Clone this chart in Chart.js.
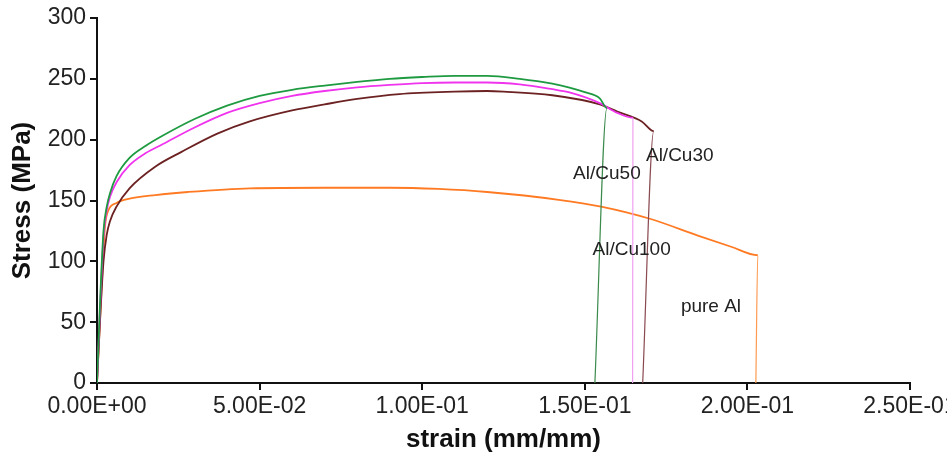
<!DOCTYPE html>
<html>
<head>
<meta charset="utf-8">
<script src="https://cdn.jsdelivr.net/npm/chart.js@4"></script>
<style>
  html, body { margin: 0; padding: 0; background: #fff; }
  #wrap { width: 947px; height: 459px; }
</style>
</head>
<body>
<div id="wrap"><canvas id="stress-chart" width="947" height="459"></canvas></div>
<script>
// stress-strain curves (strain mm/mm, stress MPa)
const cu50Strain  = [0, 0.001, 0.002, 0.003, 0.004, 0.006, 0.01, 0.015, 0.02, 0.03, 0.04, 0.05, 0.06, 0.07, 0.08, 0.09, 0.10, 0.11, 0.12, 0.13, 0.14, 0.145, 0.15, 0.1546, 0.1568, 0.1531];
const cu50Stress  = [0, 70, 125, 145, 156, 170, 185, 195, 203, 217, 228, 236, 241, 244.5, 247.5, 250, 251.5, 252.5, 252.5, 250, 246, 243, 239, 234, 226, 0];

const cu100Strain = [0, 0.001, 0.002, 0.003, 0.004, 0.006, 0.01, 0.015, 0.02, 0.03, 0.04, 0.05, 0.06, 0.07, 0.08, 0.09, 0.10, 0.11, 0.12, 0.13, 0.14, 0.145, 0.1546, 0.16, 0.1648, 0.1647];
const cu100Stress = [0, 65, 120, 142, 153, 165, 179, 189, 196, 210, 222, 230, 236, 240, 243, 245, 246.5, 247, 247, 245.5, 241.5, 239, 230, 222, 218, 0];

const cu30Strain  = [0, 0.001, 0.002, 0.003, 0.004, 0.006, 0.01, 0.018, 0.026, 0.037, 0.047, 0.06, 0.07, 0.08, 0.093, 0.11, 0.12, 0.125, 0.14, 0.1546, 0.16, 0.1675, 0.1712, 0.1678];
const cu30Stress  = [0, 55, 100, 122, 133, 145, 160, 178, 190, 205, 215, 224, 229, 233.5, 237.5, 239.5, 240, 239.5, 236.5, 229, 223, 215, 207, 0];

const alStrain    = [0, 0.001, 0.002, 0.0025, 0.0035, 0.006, 0.01, 0.018, 0.028, 0.047, 0.07, 0.09, 0.105, 0.12, 0.142, 0.155, 0.17, 0.185, 0.195, 0.2032, 0.2026];
const alStress    = [0, 55, 110, 130, 142, 148, 151.5, 154.5, 157, 160, 160.5, 160.5, 159.5, 157, 150.6, 145, 135, 121, 112, 105, 0];

const yTicks = [0, 50, 100, 150, 200, 250, 300];
const xTicks = [0, 0.05, 0.10, 0.15, 0.20, 0.25];

// curve labels placed in data coordinates
const curveLabels = ['Al/Cu50', 'Al/Cu30', 'Al/Cu100', 'pure Al'];
const labelStrain = [0.1568, 0.1792, 0.1644, 0.1888];
const labelStress = [172, 187, 109.5, 62.5];

const FONT = "'Liberation Sans', Arial, sans-serif";

function pts(xs, ys) { return xs.map((x, i) => ({ x: x, y: ys[i] })); }

function sciLabel(v) {
  if (Math.abs(v) < 1e-12) return '0.00E+00';
  const [m, e] = v.toExponential(2).split('e');
  const n = parseInt(e, 10);
  return m + 'E' + (n < 0 ? '-' : '+') + String(Math.abs(n)).padStart(2, '0');
}

// lighter, thinner final drop segment like in the figure
function dropSeg(len, color) {
  return {
    borderColor: c => c.p1DataIndex === len - 1 ? color : undefined,
    borderWidth: c => c.p1DataIndex === len - 1 ? 1.2 : undefined
  };
}

const curveLabelPlugin = {
  id: 'curveLabels',
  afterDatasetsDraw(chart) {
    const { ctx, scales: { x, y } } = chart;
    ctx.save();
    ctx.font = '19px ' + FONT;
    ctx.fillStyle = '#222';
    ctx.textAlign = 'center';
    ctx.textBaseline = 'middle';
    curveLabels.forEach((t, i) => {
      ctx.fillText(t, x.getPixelForValue(labelStrain[i]), y.getPixelForValue(labelStress[i]));
    });
    ctx.restore();
  }
};

const ctx = document.getElementById('stress-chart').getContext('2d');
new Chart(ctx, {
  type: 'scatter',
  data: {
    datasets: [
      { label: 'Al/Cu50', data: pts(cu50Strain, cu50Stress), borderColor: '#1e9a40', segment: dropSeg(cu50Strain.length, '#3a8a4a') },
      { label: 'Al/Cu100', data: pts(cu100Strain, cu100Stress), borderColor: '#f034ee', segment: dropSeg(cu100Strain.length, '#f0a0f0') },
      { label: 'Al/Cu30', data: pts(cu30Strain, cu30Stress), borderColor: '#6c2222', segment: dropSeg(cu30Strain.length, '#8a4a50') },
      { label: 'pure Al', data: pts(alStrain, alStress), borderColor: '#ff7a22', segment: dropSeg(alStrain.length, '#ff9a50') }
    ].map(d => Object.assign(d, { showLine: true, pointRadius: 0, borderWidth: 1.8, cubicInterpolationMode: 'monotone' }))
  },
  options: {
    responsive: false,
    animation: false,
    layout: { padding: { top: 18, right: 37, left: 7, bottom: 0 } },
    plugins: {
      legend: { display: false },
      tooltip: { enabled: false }
    },
    scales: {
      x: {
        type: 'linear', min: 0, max: 0.25,
        afterBuildTicks: s => { s.ticks = xTicks.map(v => ({ value: v })); },
        afterFit: s => { s.height = 76; s.paddingRight = 0; s.paddingLeft = 0; },
        border: { color: '#111', width: 2 },
        grid: { drawOnChartArea: false, color: '#111', lineWidth: 2, tickLength: 7 },
        ticks: { color: '#222', font: { family: FONT, size: 23 }, padding: 3, maxRotation: 0, callback: v => sciLabel(v) },
        title: { display: true, text: 'strain (mm/mm)', color: '#111', font: { family: FONT, size: 26, weight: 'bold' }, padding: { top: 0 } }
      },
      y: {
        type: 'linear', min: 0, max: 300,
        afterBuildTicks: s => { s.ticks = yTicks.map(v => ({ value: v })); },
        afterFit: s => { s.width = 90; },
        border: { color: '#111', width: 2 },
        grid: { drawOnChartArea: false, color: '#111', lineWidth: 2, tickLength: 7 },
        ticks: { color: '#222', font: { family: FONT, size: 23 }, padding: 4 },
        title: { display: true, text: 'Stress (MPa)', color: '#111', font: { family: FONT, size: 26, weight: 'bold' }, padding: 0 }
      }
    }
  },
  plugins: [curveLabelPlugin]
});
</script>
</body>
</html>
